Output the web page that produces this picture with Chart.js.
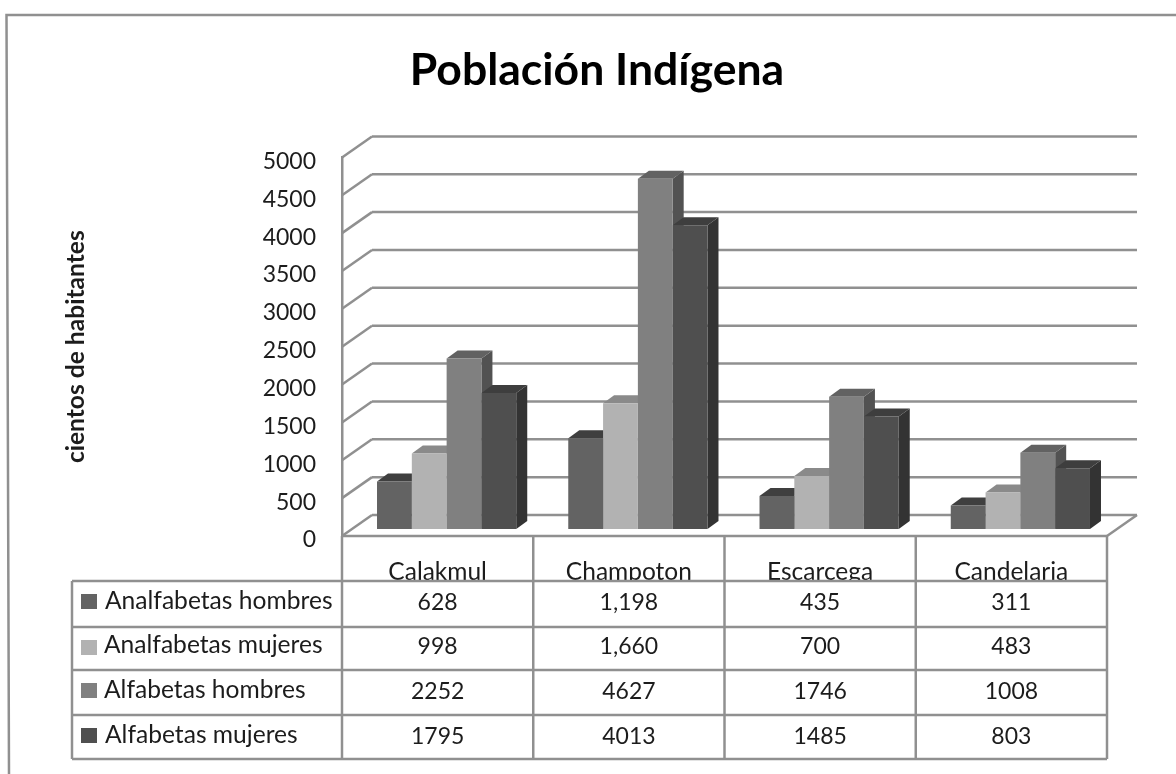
<!DOCTYPE html>
<html><head><meta charset="utf-8">
<style>html,body{margin:0;padding:0;background:#fff;overflow:hidden}canvas{display:block}</style>
<script src="https://cdn.jsdelivr.net/npm/chart.js@4"></script></head>
<body><canvas id="c" width="1176" height="774"></canvas>
<script>
const categories = ['Calakmul','Champoton','Escarcega','Candelaria'];
const analfabetasHombres = [628,1198,435,311];
const analfabetasMujeres = [998,1660,700,483];
const alfabetasHombres = [2252,4627,1746,1008];
const alfabetasMujeres = [1795,4013,1485,803];
const seriesNames = ['Analfabetas hombres','Analfabetas mujeres','Alfabetas hombres','Alfabetas mujeres'];
const seriesValues = [analfabetasHombres,analfabetasMujeres,alfabetasHombres,alfabetasMujeres];
const tableText = [
  ['628','1,198','435','311'],
  ['998','1,660','700','483'],
  ['2252','4627','1746','1008'],
  ['1795','4013','1485','803']
];
const frontColors = ['#636363','#b2b2b2','#808080','#4f4f4f'];
const topColors = ['#3f3f3f','#8a8a8a','#626262','#3e3e3e'];
const sideColors = ['#3a3a3a','#7d7d7d','#525252','#333333'];
const LINE = '#909090', FONT = 'Lato', TEXT = '#1c1c1c';
const rowLines = [581,627,670,715,759];
const rowText = [601,645,690,735];
const swatchY = [594,640,683,728];
const labelX = [105,104,104,105];

function seg(ctx,x1,y1,x2,y2){ctx.beginPath();ctx.moveTo(x1,y1);ctx.lineTo(x2,y2);ctx.stroke();}
function poly(ctx,pts,color){ctx.fillStyle=color;ctx.beginPath();pts.forEach((p,i)=>i?ctx.lineTo(p[0],p[1]):ctx.moveTo(p[0],p[1]));ctx.closePath();ctx.fill();}

const scene = {
  id:'scene',
  beforeDraw(chart){
    const ctx=chart.ctx;
    ctx.save();
    ctx.fillStyle='#fff';ctx.fillRect(0,0,chart.width,chart.height);
    ctx.strokeStyle=LINE;ctx.lineWidth=2.5;
    ctx.beginPath();ctx.moveTo(9,774);ctx.lineTo(6.5,15);ctx.lineTo(1176,15);ctx.stroke();
    ctx.restore();
  },
  beforeDatasetsDraw(chart){
    const ctx=chart.ctx,y=chart.scales.y,x=chart.scales.x;
    ctx.save();
    ctx.strokeStyle=LINE;ctx.lineWidth=2.5;
    y.ticks.forEach(t=>{
      const p=y.getPixelForValue(t.value);
      seg(ctx,x.left,p,x.left+30,p-21);
      seg(ctx,x.left+30,p-21,x.right+30,p-21);
    });
    const b=y.getPixelForValue(0);
    seg(ctx,x.left,b,x.right,b);
    seg(ctx,x.right,b,x.right+30,b-21);
    ctx.restore();
    ctx.save();
    ctx.translate(9,-7);
    const dx=11,dy=-8;
    const n=categories.length;
    for(let c=0;c<n;c++){
      for(let s=0;s<seriesValues.length;s++){
        const e=chart.getDatasetMeta(s).data[c];
        const L=e.x-e.width/2,R=e.x+e.width/2,T=e.y,B=e.base;
        poly(ctx,[[R,T],[R+dx,T+dy],[R+dx,B+dy],[R,B]],sideColors[s]);
        poly(ctx,[[L,T],[L+dx,T+dy],[R+dx,T+dy],[R,T]],topColors[s]);
      }
    }
  },
  afterDatasetsDraw(chart){chart.ctx.restore();},
  afterDraw(chart){
    const ctx=chart.ctx,x=chart.scales.x,y=chart.scales.y;
    const top=rowLines[0],bot=rowLines[rowLines.length-1],left=72;
    ctx.save();
    ctx.fillStyle='#fff';ctx.fillRect(left,top,x.right-left,bot-top);
    ctx.strokeStyle=LINE;ctx.lineWidth=2.5;
    const band=(x.right-x.left)/categories.length;
    const floor=y.getPixelForValue(0);
    for(let i=0;i<=categories.length;i++){
      const px=x.getPixelForValue(i)-band/2;
      seg(ctx,px,floor,px,bot);
    }
    rowLines.forEach(r=>seg(ctx,left,r,x.right,r));
    seg(ctx,left,top,left,bot);
    ctx.textBaseline='middle';
    seriesNames.forEach((name,r)=>{
      ctx.fillStyle=frontColors[r];ctx.fillRect(81,swatchY[r],16,15);
      ctx.fillStyle=TEXT;ctx.textAlign='left';
      ctx.font='24.6px '+FONT;
      ctx.fillText(name,labelX[r],rowText[r]);
      ctx.textAlign='center';
      ctx.font='23px '+FONT;
      tableText[r].forEach((v,c)=>ctx.fillText(v,x.getPixelForValue(c),rowText[r]+2));
    });
    ctx.restore();
  }
};

new Chart(document.getElementById('c'),{
  type:'bar',
  data:{labels:categories,datasets:seriesNames.map((name,i)=>({
    label:name,data:seriesValues[i],backgroundColor:frontColors[i],
    barPercentage:1,categoryPercentage:0.728,borderWidth:0,clip:false
  }))},
  plugins:[scene],
  options:{
    responsive:false,animation:false,
    layout:{padding:{left:18,right:0,top:0,bottom:0}},
    plugins:{
      legend:{display:false},tooltip:{enabled:false},
      title:{display:true,text:'Población Indígena',color:'#000',
        font:{family:FONT,size:44.5,weight:'bold',lineHeight:1.2},
        padding:{top:44,bottom:60}}
    },
    scales:{
      x:{grid:{display:false},border:{display:false},
        ticks:{color:TEXT,font:{family:FONT,size:24.5},padding:13,maxRotation:0},
        afterFit(s){s.height=238;}},
      y:{min:0,max:5000,position:'left',
        grid:{display:false,drawTicks:false},
        border:{display:true,color:LINE,width:2.5},
        ticks:{stepSize:500,color:TEXT,font:{family:FONT,size:23},padding:26,labelOffset:4,callback:v=>String(v)},
        title:{display:true,text:'cientos de habitantes',color:TEXT,
          font:{family:FONT,size:24.6,weight:'bold'},padding:{top:43,bottom:0}},
        afterFit(s){s.width=324;}},
      yRight:{min:0,max:5000,position:'right',
        grid:{display:false,drawTicks:false},border:{display:false},
        ticks:{display:false},afterFit(s){s.width=69;}}
    }
  }
});
</script></body></html>
